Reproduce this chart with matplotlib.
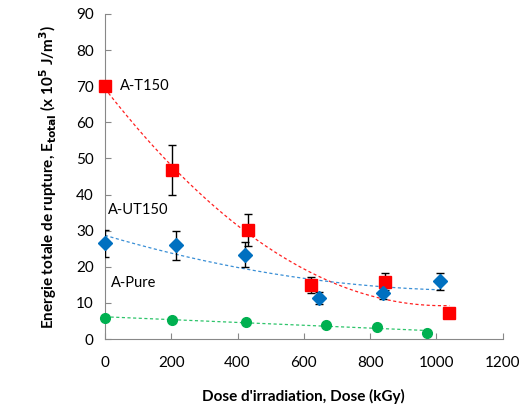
import numpy as np
import matplotlib.pyplot as plt

plt.rcParams['font.family'] = ['Lato', 'DejaVu Sans']

# A-T150 (red squares)
t150_dose = [0, 203, 431, 623, 846, 1039]
t150_e = [70.0, 46.8, 30.2, 14.9, 15.9, 7.1]
t150_err = [0, 7.0, 4.5, 2.2, 2.3, 0]

# A-UT150 (blue diamonds)
ut150_dose = [0, 213, 422, 646, 838, 1011]
ut150_e = [26.5, 26.0, 23.4, 11.3, 12.8, 16.0]
ut150_err = [3.8, 4.0, 3.5, 1.6, 1.8, 2.4]

# A-Pure (green circles)
pure_dose = [0, 203, 425, 668, 821, 972]
pure_e = [5.9, 5.3, 4.8, 3.9, 3.2, 1.8]

xticks = [0, 200, 400, 600, 800, 1000, 1200]
yticks = [0, 10, 20, 30, 40, 50, 60, 70, 80, 90]

red = '#FF0000'
blue = '#0070C0'
green = '#00B050'

fig = plt.figure(figsize=(5.21, 4.09), dpi=100)
ax = fig.add_axes([0.2015, 0.171, 0.7635, 0.795])


def trend(x, y, deg, color, lw=0.9):
	p = np.polyfit(x, y, deg)
	xs = np.linspace(min(x), max(x), 200)
	ax.plot(xs, np.polyval(p, xs), ls=(0, (2.5, 2)), color=color, lw=lw, zorder=2)


trend(t150_dose, t150_e, 2, '#FF2020')
trend(ut150_dose, ut150_e, 2, '#3A8FD6')
trend(pure_dose, pure_e, 1, '#2DC46A')

ax.errorbar(t150_dose, t150_e, yerr=t150_err, fmt='none', ecolor='black',
            elinewidth=1, capsize=3, zorder=3)
ax.errorbar(ut150_dose, ut150_e, yerr=ut150_err, fmt='none', ecolor='black',
            elinewidth=1, capsize=3, zorder=3)

ax.plot(t150_dose, t150_e, 's', color=red, ms=8, ls='none', zorder=4, clip_on=False)
ax.plot(ut150_dose, ut150_e, 'D', color=blue, ms=7, ls='none', zorder=4, clip_on=False)
ax.plot(pure_dose, pure_e, 'o', color=green, ms=7, ls='none', zorder=4, clip_on=False)

ax.text(45, 70, 'A-T150', fontsize=10.5, va='center', ha='left')
ax.text(8, 35.8, 'A-UT150', fontsize=10.5, va='center', ha='left')
ax.text(18, 15.4, 'A-Pure', fontsize=10.5, va='center', ha='left')

ax.set_xlim(0, 1200)
ax.set_ylim(0, 90)
ax.set_xticks(xticks)
ax.set_yticks(yticks)
ax.tick_params(direction='in', length=4, color='#888888', labelsize=11, pad=8)
ax.tick_params(axis='x', pad=12)
for s in ['top', 'right']:
	ax.spines[s].set_visible(False)
for s in ['left', 'bottom']:
	ax.spines[s].set_color('#888888')

ax.set_xlabel("Dose d'irradiation, Dose (kGy)", fontsize=11, fontweight='bold', labelpad=14)
ax.set_ylabel(r'Energie totale de rupture, E$_{\mathbf{total}}$ (x 10$^{\mathbf{5}}$ J/m$^{\mathbf{3}}$)',
              fontsize=11, fontweight='bold', labelpad=12)

plt.savefig('out.png', dpi=100)
plt.close()
